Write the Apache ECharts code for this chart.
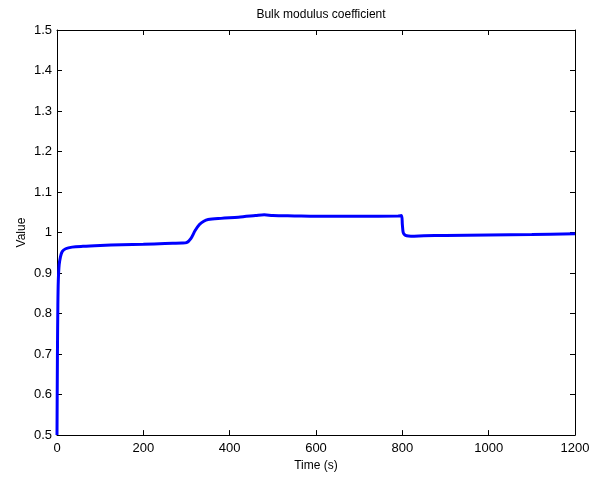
<!DOCTYPE html>
<html>
<head>
<meta charset="utf-8">
<script src="https://cdn.jsdelivr.net/npm/echarts@6/dist/echarts.min.js"></script>
<style>
  html, body { margin: 0; padding: 0; background: #fff; }
  #chart { width: 599px; height: 477px; }
</style>
</head>
<body>
<div id="chart"></div>
<script>
// time (s) and the coefficient
const times = [0, 1, 2, 3, 5, 8, 12, 20, 35, 60, 100, 150, 200, 250, 290, 300, 310, 320, 330, 340, 350, 380, 420, 460, 480, 500, 550, 600, 700, 790, 798, 800, 802, 805, 810, 820, 850, 900, 1000, 1100, 1200];
const values = [0.5, 0.7, 0.82, 0.88, 0.92, 0.94, 0.953, 0.96, 0.964, 0.966, 0.968, 0.970, 0.971, 0.973, 0.974, 0.975, 0.985, 1.005, 1.02, 1.028, 1.032, 1.035, 1.038, 1.042, 1.044, 1.042, 1.041, 1.040, 1.040, 1.041, 1.042, 1.02, 1.0, 0.995, 0.992, 0.991, 0.992, 0.993, 0.994, 0.995, 0.997];
const xTicks = [0, 200, 400, 600, 800, 1000, 1200];
const yTicks = [0.5, 0.6, 0.7, 0.8, 0.9, 1, 1.1, 1.2, 1.3, 1.4, 1.5];

const font = "'Liberation Sans', Arial, sans-serif";
const axisBase = {
  type: "value",
  axisLine: { show: true, onZero: false, lineStyle: { color: "#000", width: 1 } },
  axisTick: { show: true, inside: true, length: 5, lineStyle: { color: "#000" } },
  splitLine: { show: false },
};

const chart = echarts.init(document.getElementById("chart"));
chart.setOption({
  animation: false,
  title: {
    text: "Bulk modulus coefficient",
    left: 316,
    textAlign: "center",
    top: 4,
    textStyle: { fontFamily: font, fontSize: 12, fontWeight: "normal", color: "#000" },
  },
  grid: { left: 57, right: 24, top: 30, bottom: 40 },
  xAxis: [
    {
      ...axisBase,
      min: xTicks[0], max: xTicks[xTicks.length - 1], interval: 200,
      name: "Time (s)", nameLocation: "middle", nameGap: 22,
      nameTextStyle: { fontFamily: font, fontSize: 12, color: "#000" },
      axisLabel: { fontFamily: font, fontSize: 13, color: "#000", margin: 7, formatter: (v) => String(v) },
    },
    {
      ...axisBase, position: "top",
      min: xTicks[0], max: xTicks[xTicks.length - 1], interval: 200,
      axisLabel: { show: false },
    },
  ],
  yAxis: [
    {
      ...axisBase,
      min: yTicks[0], max: yTicks[yTicks.length - 1], interval: 0.1,
      name: "Value", nameLocation: "middle", nameGap: 29, nameMoveOverlap: false,
      nameTextStyle: { fontFamily: font, fontSize: 12, color: "#000" },
      axisLabel: { fontFamily: font, fontSize: 13, color: "#000", margin: 5 },
    },
    {
      ...axisBase, position: "right",
      min: yTicks[0], max: yTicks[yTicks.length - 1], interval: 0.1,
      axisLabel: { show: false },
    },
  ],
  series: [
    {
      type: "line",
      data: times.map((t, i) => [t, values[i]]),
      showSymbol: false,
      smooth: 0.3,
      lineStyle: { color: "#0000ff", width: 3 },
    },
  ],
});
</script>
</body>
</html>
